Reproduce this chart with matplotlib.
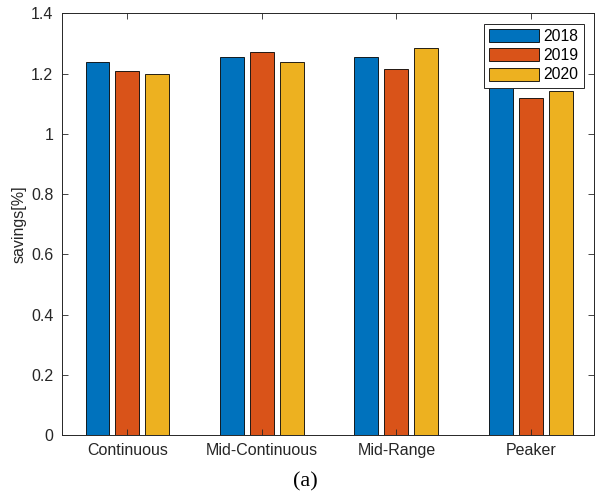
import matplotlib.pyplot as plt
import numpy as np

plt.rcParams['font.family'] = ['Liberation Sans', 'DejaVu Sans']

categories = ['Continuous', 'Mid-Continuous', 'Mid-Range', 'Peaker']
years = ['2018', '2019', '2020']
s2018 = [1.24, 1.257, 1.255, 1.20]
s2019 = [1.21, 1.271, 1.217, 1.12]
s2020 = [1.20, 1.24, 1.286, 1.142]
colors = ['#0072BD', '#D95319', '#EDB120']

fig = plt.figure(figsize=(5.95, 4.99), dpi=100)
ax = fig.add_axes([0.1037, 0.1283, 0.8943, 0.8447])

x = np.arange(1, len(categories) + 1)
w = 0.178
offs = [-0.223, 0, 0.223]
for vals, off, c, lab in zip([s2018, s2019, s2020], offs, colors, years):
    ax.bar(x + off, vals, w, color=c, edgecolor='black', linewidth=0.6, label=lab)

ax.set_xlim(0.511, 4.468)
ax.set_ylim(0, 1.4)
ax.set_xticks(x)
ax.set_xticklabels(categories)
ax.set_yticks(np.arange(0, 1.41, 0.2))
ax.set_yticklabels(['0', '0.2', '0.4', '0.6', '0.8', '1', '1.2', '1.4'])
ax.tick_params(direction='in', top=True, right=True, length=4, width=0.6,
               colors='#262626', labelsize=11.5, pad=6)
for s in ax.spines.values():
    s.set_color('#262626')
    s.set_linewidth(0.7)
ax.set_ylabel('savings[%]', fontsize=11.5, color='#262626', labelpad=3)

leg = ax.legend(loc='upper right', fontsize=11.3,
                frameon=True, fancybox=False, framealpha=1, edgecolor='#262626',
                handlelength=3.2, handleheight=0.9, handletextpad=0.25,
                borderpad=0.35, borderaxespad=0.64, labelspacing=0.27)
leg.get_frame().set_linewidth(0.7)

fig.text(0.513, 0.035, '(a)', family='Liberation Serif', fontsize=16, ha='center', va='center')

fig.savefig('out.png', dpi=100)
